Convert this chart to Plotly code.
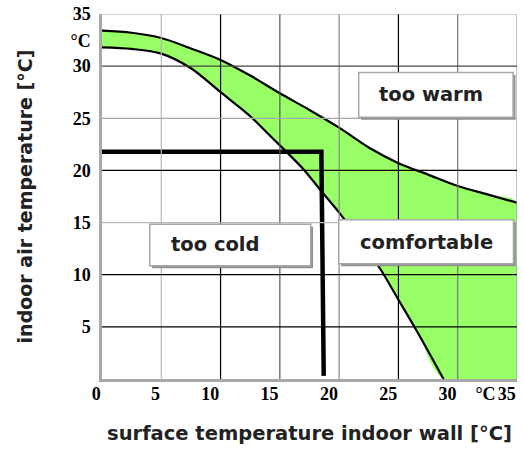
import plotly.graph_objects as go

# ---- data ----
upper_x = [0, 2.5, 5, 7.5, 10, 12.5, 15, 17.5, 20, 22.5, 25, 27.5, 30, 32.5, 35]
upper_y = [33.4, 33.2, 32.7, 31.7, 30.6, 29.1, 27.4, 25.8, 24.1, 22.2, 20.7, 19.6, 18.5, 17.7, 16.9]

lower_x = [0, 2.5, 5, 7.5, 10, 12.5, 14.2, 17, 18.4, 20.25, 22, 23.5, 25, 26.6, 28.8]
lower_y = [31.8, 31.65, 31.2, 29.8, 27.5, 25.2, 23.3, 20.1, 18.15, 15.6, 12.9, 10.5, 7.6, 4.5, 0]

limit_x = [0, 18.5, 18.7]
limit_y = [21.8, 21.8, 0.3]

x_ticks = [0, 5, 10, 15, 20, 25, 30, 33.3, 35]
x_ticktext = ["0", "5", "10", "15", "20", "25", "30", "°C", "35"]
y_ticks = [5, 10, 15, 20, 25, 30, 32.4, 35]
y_ticktext = ["5", "10", "15", "20", "25", "30", "°C", "35"]

x_grid = [5, 10, 15, 20, 25, 30, 35]
y_grid = [5, 10, 15, 20, 25, 30, 35]

zone_labels = ["too warm", "too cold", "comfortable"]
zone_text_pos = [(27.75, 27.25), (9.6, 12.87), (27.35, 13.1)]
zone_boxes = [(21.65, 25.1, 34.67, 29.4), (4.03, 10.86, 17.6, 14.85), (19.97, 11.05, 34.7, 15.27)]

# ---- styles ----
GREEN = "#99ff66"
x_grid_style = {5: "#b8b8b8", 10: "#000000", 15: "#555555", 20: "#888888",
                25: "#000000", 30: "#777777", 35: "#a0a0a0"}
y_grid_style = {5: "#000000", 10: "#000000", 15: "#b8b8b8", 20: "#000000",
                25: "#a8a8a8", 30: "#444444", 35: "#a8a8a8"}

X_MIN, X_MAX, Y_MIN, Y_MAX = 0, 35, 0, 35

fig = go.Figure()

# green comfort band
poly_x = upper_x + [X_MAX] + lower_x[::-1]
poly_y = upper_y + [Y_MIN] + lower_y[::-1]
fig.add_trace(go.Scatter(x=poly_x, y=poly_y, fill="toself", fillcolor=GREEN,
                         line=dict(width=0, shape="spline", smoothing=0.9), mode="lines",
                         hoverinfo="skip", showlegend=False))
fig.add_trace(go.Scatter(x=upper_x, y=upper_y, mode="lines",
                         line=dict(color="black", width=2.2, shape="spline", smoothing=0.9),
                         showlegend=False))
fig.add_trace(go.Scatter(x=lower_x, y=lower_y, mode="lines",
                         line=dict(color="black", width=2.2, shape="spline", smoothing=0.9),
                         showlegend=False))

shapes = []
for v in x_grid:
    shapes.append(dict(type="line", xref="x", yref="y", x0=v, x1=v, y0=Y_MIN, y1=Y_MAX,
                       line=dict(color=x_grid_style[v], width=1.2)))
for v in y_grid:
    shapes.append(dict(type="line", xref="x", yref="y", x0=X_MIN, x1=X_MAX, y0=v, y1=v,
                       line=dict(color=y_grid_style[v], width=1.2)))

# label boxes with a small drop shadow
for (x0, y0, x1, y1) in zone_boxes:
    shapes.append(dict(type="rect", xref="x", yref="y", x0=x0 + 0.2, x1=x1 + 0.2, y0=y0 - 0.25, y1=y1 - 0.25,
                       fillcolor="#909090", line=dict(width=0)))
    shapes.append(dict(type="rect", xref="x", yref="y", x0=x0, x1=x1, y0=y0, y1=y1,
                       fillcolor="white", line=dict(color="#a8a8a8", width=1.5)))

fig.add_trace(go.Scatter(x=limit_x, y=limit_y, mode="lines", line=dict(color="black", width=4.5),
                         showlegend=False))

annotations = []
for txt, (tx, ty) in zip(zone_labels, zone_text_pos):
    annotations.append(dict(x=tx, y=ty, xref="x", yref="y", text=txt, showarrow=False,
                            font=dict(family="DejaVu Sans", size=19.5, color="#222222", weight="bold")))

fig.update_layout(
    width=524, height=449,
    margin=dict(l=101.5, r=7.3, t=14.3, b=69.7, autoexpand=False),
    paper_bgcolor="white", plot_bgcolor="white",
    shapes=shapes, annotations=annotations,
    showlegend=False,
)
fig.update_xaxes(range=[X_MIN, X_MAX], showgrid=False, zeroline=False, automargin=False,
                 showline=True, linecolor="#a8a8a8", linewidth=2.5,
                 tickvals=x_ticks, ticktext=x_ticktext, ticks="", tickangle=0,
                 ticklabelposition="outside left", ticklabelstandoff=-3,
                 tickfont=dict(family="Liberation Serif", size=18, color="black", weight="bold"),
                 title=dict(text="surface temperature indoor wall [°C]", standoff=24,
                            font=dict(family="DejaVu Sans", size=19.5, color="#222222", weight="bold")))
fig.update_yaxes(range=[Y_MIN, Y_MAX], showgrid=False, zeroline=False, automargin=False,
                 showline=True, linecolor="#a8a8a8", linewidth=2.5,
                 tickvals=y_ticks, ticktext=y_ticktext, ticks="", ticklabelstandoff=5,
                 tickfont=dict(family="Liberation Serif", size=18, color="black", weight="bold"),
                 title=dict(text="indoor air temperature [°C]", standoff=33,
                            font=dict(family="DejaVu Sans", size=19, color="#222222", weight="bold")))

fig.write_html("out.html", config={"displayModeBar": False},
               post_script="document.body.style.margin='0px';document.body.style.overflow='hidden';")
